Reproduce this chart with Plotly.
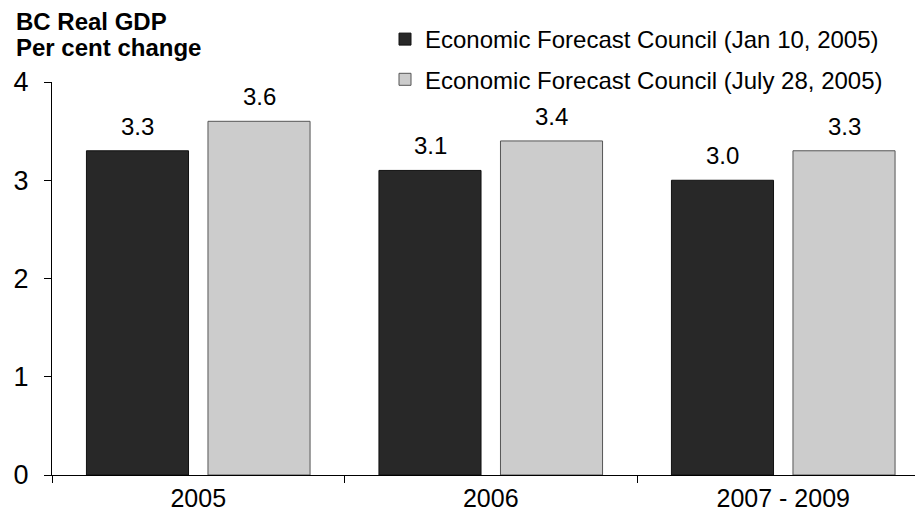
import plotly.graph_objects as go

categories = ["2005", "2006", "2007 - 2009"]
jan_values = [3.3, 3.1, 3.0]
july_values = [3.6, 3.4, 3.3]
series_names = ["Economic Forecast Council (Jan 10, 2005)",
                "Economic Forecast Council (July 28, 2005)"]
y_ticks = [0, 1, 2, 3, 4]
title_lines = ["BC Real GDP", "Per cent change"]

FONT = "Liberation Sans, Arial, sans-serif"

# page body has an 8px margin, so layout is shifted by -8px
L, T, B, R = 44, 74, 49, 8
W, H = 923, 516
PW, PH = W - L - R, H - T - B
CAT_W = 292.5

fig = go.Figure()
fig.add_trace(go.Bar(
    x=categories, y=jan_values, name=series_names[0],
    marker=dict(color="#282828", line=dict(color="#111111", width=1)),
    legendgroup="a",
))
fig.add_trace(go.Bar(
    x=categories, y=july_values, name=series_names[1],
    marker=dict(color="#cccccc", line=dict(color="#555555", width=1)),
    legendgroup="b",
))

for vals, shift in ((jan_values, -60.75), (july_values, 60.75)):
    for i, v in enumerate(vals):
        fig.add_annotation(
            x=i, y=v, xref="x", yref="y", text=f"{v:.1f}",
            showarrow=False, xshift=shift, yshift=9, yanchor="bottom",
            font=dict(family=FONT, size=24, color="black"),
        )

for line, ypx in zip(title_lines, (14, 39)):
    fig.add_annotation(
        text=f"<b>{line}</b>",
        xref="paper", yref="paper", x=(6 - L) / PW, y=1 + (T - ypx) / PH,
        xanchor="left", yanchor="middle", align="left", showarrow=False,
        font=dict(family=FONT, size=24, color="black"),
    )

fig.update_layout(
    width=W, height=H,
    margin=dict(l=L, r=R, t=T, b=B, autoexpand=False),
    paper_bgcolor="white", plot_bgcolor="white",
    barmode="group", bargap=0.169, bargroupgap=0.16,
    font=dict(family=FONT, size=24, color="black"),
    legend=dict(
        x=(377 - L) / PW, xanchor="left", xref="paper",
        y=1 + (T - 9) / PH, yanchor="top", yref="paper",
        bgcolor="rgba(0,0,0,0)", tracegroupgap=6,
        traceorder="grouped",
        font=dict(family=FONT, size=24, color="black"),
    ),
    showlegend=True,
)
fig.update_xaxes(
    type="category", range=[-0.5, -0.5 + PW / CAT_W],
    showline=True, linecolor="black", linewidth=1,
    ticks="outside", tickson="boundaries", ticklen=7, tickcolor="black",
    showgrid=False, zeroline=False, tickangle=0, ticklabelstandoff=1,
    tickfont=dict(family=FONT, size=25, color="black"),
)
fig.update_yaxes(
    range=[0, 4], tickvals=y_ticks,
    showline=True, linecolor="black", linewidth=1,
    ticks="outside", ticklen=7, tickcolor="black",
    showgrid=False, zeroline=False, ticklabelstandoff=10,
    tickfont=dict(family=FONT, size=27, color="black"),
)

fig.write_html("out.html")
